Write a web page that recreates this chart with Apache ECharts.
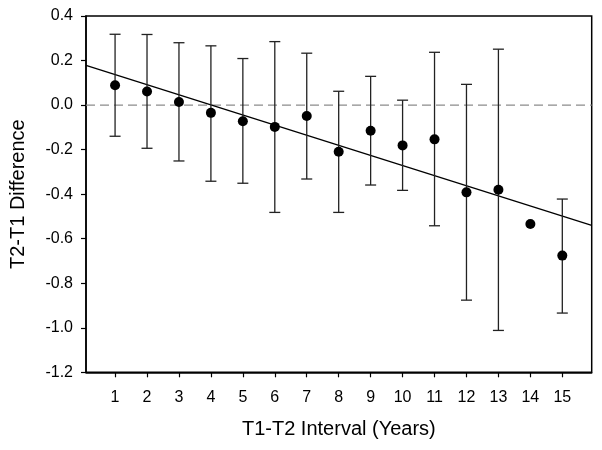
<!DOCTYPE html>
<html>
<head>
<meta charset="utf-8">
<script src="https://cdn.jsdelivr.net/npm/echarts@6/dist/echarts.min.js"></script>
<style>html,body{margin:0;padding:0;background:#fff}#c{width:602px;height:450px}</style>
</head>
<body>
<div id="c"></div>
<script>
const intervals = [1,2,3,4,5,6,7,8,9,10,11,12,13,14,15];
const means = [0.089,0.061,0.014,-0.035,-0.073,-0.098,-0.049,-0.210,-0.115,-0.181,-0.154,-0.392,-0.380,-0.534,-0.676];
const upper = [0.318,0.317,0.280,0.266,0.209,0.285,0.233,0.062,0.129,0.022,0.237,0.093,0.251,null,-0.422];
const lower = [-0.140,-0.194,-0.251,-0.342,-0.351,-0.482,-0.332,-0.482,-0.359,-0.383,-0.542,-0.876,-1.012,null,-0.934];
const fitX = [0.09, 15.92];
const fitY = [0.178, -0.540];
const refX = [0.09, 15.92];
const refY = [0, 0];
const xTicks = [1,2,3,4,5,6,7,8,9,10,11,12,13,14,15];

const font = 'Liberation Sans, Arial, sans-serif';
const chart = echarts.init(document.getElementById('c'), null, {renderer:'canvas'});

const errData = intervals.map((x,i)=>[x, lower[i], upper[i]]).filter(d=>d[1]!==null && d[2]!==null);

chart.setOption({
  animation:false,
  grid:{left:83.5, right:10.3, top:16, bottom:77.7, show:true, borderColor:'#000', borderWidth:1.5, backgroundColor:'transparent'},
  xAxis:{
    type:'value', min:0.09, max:15.92,
    name:'T1-T2 Interval (Years)', nameLocation:'middle', nameGap:47,
    nameTextStyle:{fontFamily:font, fontSize:20, color:'#000'},
    axisLine:{show:true, onZero:false, lineStyle:{color:'#000', width:1.5}},
    axisTick:{show:true, customValues:xTicks, length:5, lineStyle:{color:'#000', width:1.2}},
    axisLabel:{customValues:xTicks, fontFamily:font, fontSize:16, color:'#000', margin:17},
    splitLine:{show:false}
  },
  yAxis:{
    type:'value', min:-1.2, max:0.4, interval:0.2,
    name:'T2-T1 Difference', nameLocation:'middle', nameGap:58, nameRotate:90,
    nameTextStyle:{fontFamily:font, fontSize:20, color:'#000'},
    axisLine:{show:true, onZero:false, lineStyle:{color:'#000', width:1.5}},
    axisTick:{show:true, length:5, lineStyle:{color:'#000', width:1.2}},
    axisLabel:{fontFamily:font, fontSize:16, color:'#000', margin:13, formatter:v=>(Math.abs(v)<1e-9?0:v).toFixed(1)},
    splitLine:{show:false}
  },
  series:[
    {
      type:'line', data:refX.map((x,i)=>[x, refY[i]]), symbol:'none', silent:true,
      lineStyle:{color:'#8c8c8c', width:1.3, type:[9,5]}, z:1
    },
    {
      type:'line', data:fitX.map((x,i)=>[x, fitY[i]]), symbol:'none', silent:true,
      lineStyle:{color:'#000', width:1.3}, z:2
    },
    {
      type:'custom', data:errData, z:3,
      renderItem:function(params, api){
        const x = api.value(0);
        const lo = api.coord([x, api.value(1)]);
        const hi = api.coord([x, api.value(2)]);
        const hw = 5.5;
        const st = {stroke:'#222', lineWidth:1.3};
        return {type:'group', children:[
          {type:'line', shape:{x1:lo[0], y1:lo[1], x2:hi[0], y2:hi[1]}, style:st},
          {type:'line', shape:{x1:lo[0]-hw, y1:lo[1], x2:lo[0]+hw, y2:lo[1]}, style:st},
          {type:'line', shape:{x1:hi[0]-hw, y1:hi[1], x2:hi[0]+hw, y2:hi[1]}, style:st}
        ]};
      },
      encode:{x:0, y:[1,2]}
    },
    {
      type:'scatter', data:intervals.map((x,i)=>[x, means[i]]), symbol:'circle', symbolSize:10,
      itemStyle:{color:'#000', opacity:1}, z:4
    }
  ]
});
</script>
</body>
</html>
